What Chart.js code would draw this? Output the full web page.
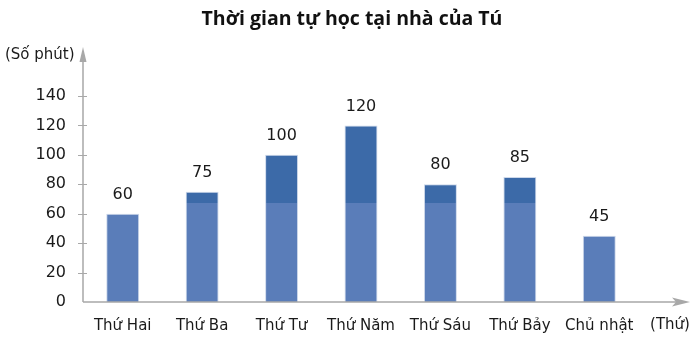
<!DOCTYPE html>
<html><head><meta charset="utf-8">
<script src="https://cdn.jsdelivr.net/npm/chart.js@4/dist/chart.umd.min.js"></script>
<style>html,body{margin:0;padding:0;background:#fff}#c{display:block}</style>
</head><body>
<canvas id="c" width="697" height="342"></canvas>
<script>
const categories = ["Thứ Hai","Thứ Ba","Thứ Tư","Thứ Năm","Thứ Sáu","Thứ Bảy","Chủ nhật"];
const minutes = [60, 75, 100, 120, 80, 85, 45];
const yTicks = [0, 20, 40, 60, 80, 100, 120, 140];
const titleText = "Thời gian tự học tại nhà của Tú";
const yAxisLabel = "(Số phút)";
const xAxisLabel = "(Thứ)";

const LIGHT = "#5a7db9";
const DARK = "#3c6aa8";
const AXIS = "#a8a8a8";
const FONT = "'DejaVu Sans', sans-serif";

function barFill(ctx) {
  const chart = ctx.chart;
  const area = chart.chartArea;
  if (!area) return LIGHT;
  const y = chart.scales.y;
  const split = y.getPixelForValue(67);
  const g = chart.ctx.createLinearGradient(0, area.bottom, 0, area.top);
  const t = (area.bottom - split) / (area.bottom - area.top);
  g.addColorStop(0, LIGHT);
  g.addColorStop(t, LIGHT);
  g.addColorStop(t, DARK);
  g.addColorStop(1, DARK);
  return g;
}

const decor = {
  id: "decor",
  afterDraw(chart) {
    const c = chart.ctx;
    const ys = chart.scales.y;
    const x0 = chart.chartArea.left;
    const y0 = ys.getPixelForValue(0);
    c.save();
    c.strokeStyle = AXIS;
    c.fillStyle = AXIS;
    c.lineWidth = 1.5;
    c.beginPath();
    c.moveTo(x0, y0); c.lineTo(x0, 58);
    c.moveTo(x0, y0); c.lineTo(680, y0);
    c.stroke();
    c.beginPath();
    c.moveTo(x0, 47); c.lineTo(x0 + 3.5, 62); c.lineTo(x0 - 3.5, 62); c.closePath(); c.fill();
    c.beginPath();
    c.moveTo(690, y0); c.lineTo(672, y0 - 4.5); c.lineTo(676, y0); c.lineTo(672, y0 + 4.5); c.closePath(); c.fill();
    c.lineWidth = 1;
    yTicks.forEach(v => {
      if (v === 0) return;
      const py = Math.round(ys.getPixelForValue(v)) + 0.5;
      c.beginPath(); c.moveTo(x0 - 5, py); c.lineTo(x0 + 4, py); c.stroke();
    });
    c.fillStyle = "#1a1a1a";
    c.font = "16px " + FONT;
    c.textAlign = "center";
    c.textBaseline = "middle";
    const meta = chart.getDatasetMeta(0);
    meta.data.forEach((bar, i) => {
      c.fillText(String(minutes[i]), bar.x, bar.y - 19);
    });
    c.font = "15px " + FONT;
    c.textAlign = "left";
    c.fillText(yAxisLabel, 5, 55);
    c.textAlign = "center";
    c.fillText(xAxisLabel, 670, 325);
    c.fillStyle = "#111";
    c.font = "bold 19.5px 'Open Sans', sans-serif";
    c.textBaseline = "alphabetic";
    c.fillText(titleText, 352, 25);
    c.restore();
  }
};

new Chart(document.getElementById("c"), {
  type: "bar",
  data: {
    labels: categories,
    datasets: [{
      data: minutes,
      backgroundColor: barFill,
      borderColor: "rgba(200,212,232,0.9)",
      borderWidth: {left: 1, right: 1, top: 1, bottom: 0},
      borderSkipped: "bottom",
      categoryPercentage: 1,
      barPercentage: 0.415
    }]
  },
  options: {
    responsive: false,
    animation: false,
    layout: { padding: { left: 0, right: 58, top: 96, bottom: 0 } },
    plugins: { legend: { display: false }, tooltip: { enabled: false }, title: { display: false } },
    scales: {
      x: {
        grid: { display: false, drawTicks: false },
        border: { display: false },
        ticks: { color: "#1a1a1a", font: { family: FONT, size: 15 }, padding: 15, maxRotation: 0, autoSkip: false },
        afterFit(s) { s.height = 40; }
      },
      y: {
        min: 0, max: 140,
        afterBuildTicks(s) { s.ticks = yTicks.map(v => ({ value: v })); },
        grid: { display: false, drawTicks: false },
        border: { display: false },
        ticks: { color: "#1a1a1a", font: { family: FONT, size: 16 }, padding: 17 },
        afterFit(s) { s.width = 83; }
      }
    }
  },
  plugins: [decor]
});
</script>
</body></html>
